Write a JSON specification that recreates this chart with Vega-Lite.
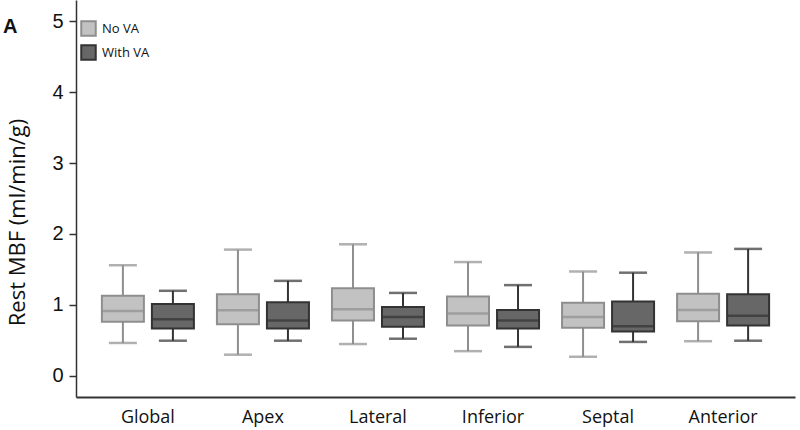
{
  "$schema": "https://vega.github.io/schema/vega-lite/v6.json",
  "autosize": "none",
  "width": 719,
  "height": 397,
  "padding": {"left": 76, "top": 0, "right": 5, "bottom": 33},
  "background": "white",
  "title": {"text": "A", "anchor": "start", "frame": "group", "dx": -73, "dy": 41, "fontSize": 20, "fontWeight": "bold", "font": "Liberation Sans", "color": "#111"},
  "data": {"values": [
    {"region": "Global", "va": "No VA", "lo": 0.465, "q1": 0.765, "med": 0.915, "q3": 1.13, "hi": 1.56},
    {"region": "Global", "va": "With VA", "lo": 0.497, "q1": 0.67, "med": 0.80, "q3": 1.014, "hi": 1.20},
    {"region": "Apex", "va": "No VA", "lo": 0.30, "q1": 0.73, "med": 0.925, "q3": 1.15, "hi": 1.78},
    {"region": "Apex", "va": "With VA", "lo": 0.497, "q1": 0.67, "med": 0.78, "q3": 1.04, "hi": 1.34},
    {"region": "Lateral", "va": "No VA", "lo": 0.45, "q1": 0.78, "med": 0.94, "q3": 1.235, "hi": 1.855},
    {"region": "Lateral", "va": "With VA", "lo": 0.525, "q1": 0.695, "med": 0.83, "q3": 0.97, "hi": 1.17},
    {"region": "Inferior", "va": "No VA", "lo": 0.35, "q1": 0.71, "med": 0.88, "q3": 1.12, "hi": 1.605},
    {"region": "Inferior", "va": "With VA", "lo": 0.41, "q1": 0.67, "med": 0.78, "q3": 0.93, "hi": 1.28},
    {"region": "Septal", "va": "No VA", "lo": 0.27, "q1": 0.68, "med": 0.83, "q3": 1.03, "hi": 1.47},
    {"region": "Septal", "va": "With VA", "lo": 0.48, "q1": 0.625, "med": 0.70, "q3": 1.05, "hi": 1.455},
    {"region": "Anterior", "va": "No VA", "lo": 0.49, "q1": 0.77, "med": 0.93, "q3": 1.16, "hi": 1.74},
    {"region": "Anterior", "va": "With VA", "lo": 0.497, "q1": 0.71, "med": 0.85, "q3": 1.15, "hi": 1.79}
  ]},
  "encoding": {
    "x": {
      "field": "region", "type": "nominal", "sort": null,
      "scale": {"paddingInner": 0, "paddingOuter": 0.125},
      "axis": {"title": null, "ticks": false, "labelAngle": 0, "labelFont": "Open Sans", "labelFontSize": 18, "labelColor": "#111", "labelPadding": 11, "domainColor": "#333", "domainWidth": 2}
    },
    "xOffset": {"field": "va", "type": "nominal", "scale": {"paddingInner": 0, "paddingOuter": 0.15}},
    "stroke": {"field": "va", "type": "nominal", "scale": {"domain": ["No VA", "With VA"], "range": ["#8e8e8e", "#333333"]},
      "legend": {"title": null, "orient": "none", "legendX": 4, "legendY": 20, "symbolType": "square", "symbolSize": 210, "symbolStrokeWidth": 2, "symbolOpacity": 1, "labelFont": "Open Sans", "labelFontSize": 13, "labelColor": "#111", "rowPadding": 1, "labelOffset": 5}}
  },
  "layer": [
    {
      "mark": {"type": "rule", "strokeWidth": 2},
      "encoding": {
        "y": {"field": "lo", "type": "quantitative", "scale": {"domain": [-0.296, 5.296], "nice": false, "zero": false},
          "axis": {"title": "Rest MBF (ml/min/g)", "values": [0, 1, 2, 3, 4, 5], "format": "d", "grid": false, "tickSize": 7, "tickColor": "#333", "tickWidth": 1.5, "domainColor": "#333", "domainWidth": 1.5, "labelFont": "Liberation Sans", "labelFontSize": 20, "labelColor": "#111", "labelPadding": 6, "titleFont": "Open Sans", "titleFontSize": 22, "titleFontWeight": "normal", "titleColor": "#111", "titlePadding": 22, "titleY": 222, "titleAlign": "center"}},
        "y2": {"field": "hi"}
      }
    },
    {
      "mark": {"type": "tick", "size": 26, "thickness": 0.5, "filled": false, "strokeWidth": 2},
      "encoding": {
        "y": {"field": "lo", "type": "quantitative"}
      }
    },
    {
      "mark": {"type": "tick", "size": 26, "thickness": 0.5, "filled": false, "strokeWidth": 2},
      "encoding": {
        "y": {"field": "hi", "type": "quantitative"}
      }
    },
    {
      "mark": {"type": "bar", "width": 42, "strokeWidth": 2, "opacity": 1},
      "encoding": {
        "y": {"field": "q1", "type": "quantitative"},
        "y2": {"field": "q3"},
        "fill": {"field": "va", "type": "nominal", "scale": {"domain": ["No VA", "With VA"], "range": ["#c2c2c2", "#676767"]},
          "legend": {"title": null, "orient": "none", "legendX": 4, "legendY": 20, "symbolType": "square", "symbolSize": 210, "symbolStrokeWidth": 2, "symbolOpacity": 1, "labelFont": "Open Sans", "labelFontSize": 13, "labelColor": "#111", "rowPadding": 1, "labelOffset": 5}}
      }
    },
    {
      "mark": {"type": "tick", "size": 40, "thickness": 0.5, "filled": false, "strokeWidth": 2},
      "encoding": {
        "y": {"field": "med", "type": "quantitative"}
      }
    }
  ],
  "config": {"view": {"stroke": null}}
}
